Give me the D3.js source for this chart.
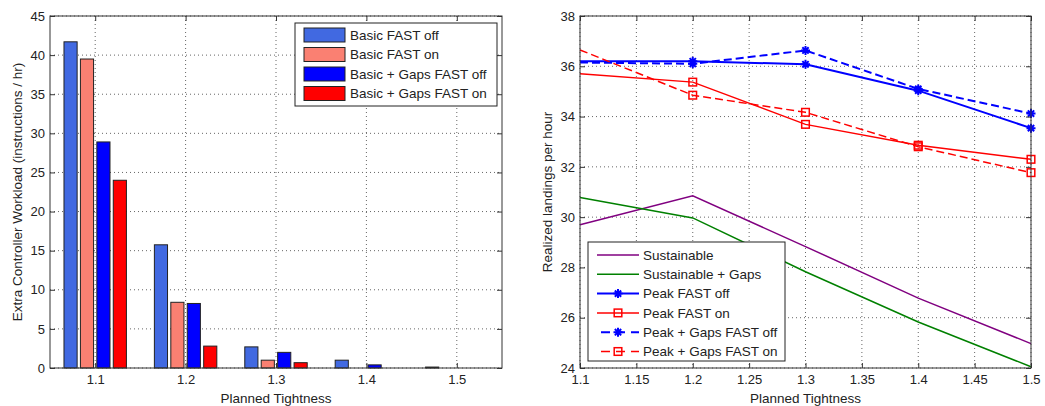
<!DOCTYPE html>
<html lang="en">
<head>
<meta charset="UTF-8">
<title>planned tightness</title>
<script src="https://cdn.jsdelivr.net/npm/d3@7"></script>
<style>
    body {
        margin: 0;
        background: #fff;
        font-family: "Liberation Sans", Arial, sans-serif;
    }
    text { fill: #222; }
</style>
</head>
<body>
<script>
    let width = 1045;
    let height = 406;

    // planned tightness, shared by both panels
    let tightness = [1.1, 1.2, 1.3, 1.4, 1.5];

    // left panel: extra controller workload
    let barSeries = ["Basic FAST off", "Basic FAST on", "Basic + Gaps FAST off", "Basic + Gaps FAST on"];
    let basicOff = [41.7, 15.75, 2.7, 1.0, 0.12];
    let basicOn = [39.5, 8.4, 1.0, 0, 0];
    let gapsOff = [28.9, 8.25, 2.0, 0.4, 0];
    let gapsOn = [24.0, 2.8, 0.68, 0, 0];
    let workloadTicks = [0, 5, 10, 15, 20, 25, 30, 35, 40, 45];

    // right panel: realized landings per hour
    let lineSeries = ["Sustainable", "Sustainable + Gaps", "Peak FAST off", "Peak FAST on", "Peak + Gaps FAST off", "Peak + Gaps FAST on"];
    let sustainable = [29.7, 30.85, 28.83, 26.78, 24.97];
    let sustainableGaps = [30.78, 29.97, 27.83, 25.83, 24.05];
    let peakOff = [36.2, 36.2, 36.08, 35.03, 33.54];
    let peakOn = [35.7, 35.37, 33.69, 32.86, 32.3];
    let peakGapsOff = [36.15, 36.1, 36.63, 35.1, 34.12];
    let peakGapsOn = [36.65, 34.85, 34.17, 32.8, 31.77];
    let tightTicks = [1.1, 1.15, 1.2, 1.25, 1.3, 1.35, 1.4, 1.45, 1.5];
    let landingTicks = [24, 26, 28, 30, 32, 34, 36, 38];

    // styles
    let barColours = ["#4169e1", "#fa8072", "#0000ff", "#ff0000"];
    let lineStyles = [
        { colour: "#800080", dash: null, marker: null, w: 1.5 },
        { colour: "#008000", dash: null, marker: null, w: 1.5 },
        { colour: "#0000ff", dash: null, marker: "star", w: 2 },
        { colour: "#ff0000", dash: null, marker: "square", w: 1.5 },
        { colour: "#0000ff", dash: "8,4", marker: "star", w: 2 },
        { colour: "#ff0000", dash: "8,4", marker: "square", w: 1.5 }
    ];

    let svg = d3.select("body").append("svg")
        .attr("width", width)
        .attr("height", height);

    // grid, inward ticks on all four sides and a box, matlab style
    function frame(g, x, y, xTicks, yTicks, xFmt) {
        let [xa, xb] = x.range();
        let [ya, yb] = y.range();
        let grid = g.append("g")
            .attr("stroke", "#666")
            .attr("stroke-dasharray", "1,3");
        grid.selectAll(".gx").data(xTicks).enter().append("line")
            .attr("x1", d => x(d)).attr("x2", d => x(d))
            .attr("y1", yb).attr("y2", ya);
        grid.selectAll(".gy").data(yTicks).enter().append("line")
            .attr("x1", xa).attr("x2", xb)
            .attr("y1", d => y(d)).attr("y2", d => y(d));
    }

    function axes(g, x, y, xTicks, yTicks, xFmt) {
        let [xa, xb] = x.range();
        let [ya, yb] = y.range();
        let bottom = g.append("g")
            .attr("transform", "translate(0," + ya + ")")
            .call(d3.axisBottom(x).tickValues(xTicks).tickFormat(xFmt)
                .tickSizeInner(-5).tickSizeOuter(0).tickPadding(7));
        let leftAx = g.append("g")
            .attr("transform", "translate(" + xa + ",0)")
            .call(d3.axisLeft(y).tickValues(yTicks).tickFormat(d3.format("d"))
                .tickSizeInner(-5).tickSizeOuter(0).tickPadding(5));
        let top = g.append("g")
            .attr("transform", "translate(0," + yb + ")")
            .call(d3.axisTop(x).tickValues(xTicks).tickFormat("")
                .tickSizeInner(-5).tickSizeOuter(0));
        let right = g.append("g")
            .attr("transform", "translate(" + xb + ",0)")
            .call(d3.axisRight(y).tickValues(yTicks).tickFormat("")
                .tickSizeInner(-5).tickSizeOuter(0));
        [bottom, leftAx, top, right].forEach(a => {
            a.select(".domain").remove();
            a.selectAll("line").attr("stroke", "#333");
            a.selectAll("text").style("font-size", "13px").attr("fill", "#222");
        });
        g.append("rect")
            .attr("x", xa).attr("y", yb)
            .attr("width", xb - xa).attr("height", ya - yb)
            .attr("fill", "none")
            .attr("stroke", "#333");
    }

    function labels(g, x, y, xText, yText) {
        let [xa, xb] = x.range();
        let [ya, yb] = y.range();
        g.append("text")
            .attr("x", (xa + xb) / 2).attr("y", ya + 35)
            .attr("text-anchor", "middle")
            .style("font-size", "13.5px")
            .text(xText);
        g.append("text")
            .attr("transform", "translate(" + (xa - 28) + "," + (ya + yb) / 2 + ") rotate(-90)")
            .attr("text-anchor", "middle")
            .style("font-size", "13.5px")
            .text(yText);
    }

    // ---------------- left: grouped bars ----------------
    let xBar = d3.scaleLinear().domain([1.05, 1.55]).range([50, 502]);
    let yBar = d3.scaleLinear().domain([0, 45]).range([368, 16]);
    let groupW = xBar(1.1 + 0.0727) - xBar(1.1);
    let xInner = d3.scaleBand()
        .domain(barSeries)
        .range([-groupW / 2, groupW / 2])
        .paddingInner(0.2)
        .paddingOuter(0.1);

    let barData = [basicOff, basicOn, gapsOff, gapsOn];
    let gl = svg.append("g");
    frame(gl, xBar, yBar, tightness, workloadTicks);

    barData.forEach((vals, s) => {
        gl.append("g").selectAll("rect")
            .data(vals)
            .enter().append("rect")
            .attr("x", (d, i) => xBar(tightness[i]) + xInner(barSeries[s]))
            .attr("y", d => yBar(d))
            .attr("width", xInner.bandwidth())
            .attr("height", d => yBar(0) - yBar(d))
            .attr("fill", barColours[s])
            .attr("stroke", "#222")
            .attr("stroke-width", 1);
    });

    axes(gl, xBar, yBar, tightness, workloadTicks, d3.format(".1f"));
    labels(gl, xBar, yBar, "Planned Tightness", "Extra Controller Workload (instructions / hr)");

    // left legend
    let legL = gl.append("g").attr("transform", "translate(295,23)");
    legL.append("rect")
        .attr("width", 202).attr("height", 83)
        .attr("fill", "#fff").attr("stroke", "#222");
    let rowsL = legL.selectAll(".row").data(barSeries).enter().append("g")
        .attr("transform", (d, i) => "translate(0," + (12 + i * 19.5) + ")");
    rowsL.append("rect")
        .attr("x", 9).attr("y", -7)
        .attr("width", 41).attr("height", 14)
        .attr("fill", (d, i) => barColours[i])
        .attr("stroke", "#222");
    rowsL.append("text")
        .attr("x", 55).attr("dy", "0.35em")
        .style("font-size", "13.5px")
        .text(d => d);

    // ---------------- right: lines ----------------
    let xLine = d3.scaleLinear().domain([1.1, 1.5]).range([580, 1031]);
    let yLine = d3.scaleLinear().domain([24, 38]).range([368, 16]);
    let lineData = [sustainable, sustainableGaps, peakOff, peakOn, peakGapsOff, peakGapsOn];

    let gr = svg.append("g");
    frame(gr, xLine, yLine, tightTicks, landingTicks);

    function asterisk(r) {
        let d = r * 0.7;
        return "M" + (-r) + ",0L" + r + ",0M0," + (-r) + "L0," + r +
            "M" + (-d) + "," + (-d) + "L" + d + "," + d +
            "M" + (-d) + "," + d + "L" + d + "," + (-d);
    }

    function drawMarker(sel, kind, colour) {
        if (kind === "star") {
            sel.append("path")
                .attr("d", asterisk(4.5))
                .attr("stroke", colour)
                .attr("stroke-width", 2)
                .attr("fill", "none");
        } else if (kind === "square") {
            sel.append("rect")
                .attr("x", -3.8).attr("y", -3.8)
                .attr("width", 7.6).attr("height", 7.6)
                .attr("fill", "none")
                .attr("stroke", colour)
                .attr("stroke-width", 1.5);
        }
    }

    let line = d3.line()
        .x((d, i) => xLine(tightness[i]))
        .y(d => yLine(d));

    lineData.forEach((vals, s) => {
        let st = lineStyles[s];
        gr.append("path")
            .datum(vals)
            .attr("d", line)
            .attr("fill", "none")
            .attr("stroke", st.colour)
            .attr("stroke-width", st.w)
            .attr("stroke-dasharray", st.dash);
        if (st.marker) {
            // the original shows no marker on the 1.1 edge
            gr.append("g").selectAll("g")
                .data(vals.slice(1))
                .enter().append("g")
                .attr("transform", (d, i) => "translate(" + xLine(tightness[i + 1]) + "," + yLine(d) + ")")
                .each(function () { drawMarker(d3.select(this), st.marker, st.colour); });
        }
    });

    axes(gr, xLine, yLine, tightTicks, landingTicks, d => d3.format(".2~f")(d));
    labels(gr, xLine, yLine, "Planned Tightness", "Realized landings per hour");

    // right legend
    let legR = gr.append("g").attr("transform", "translate(588,242)");
    legR.append("rect")
        .attr("width", 197).attr("height", 119)
        .attr("fill", "#fff").attr("stroke", "#222");
    let rowsR = legR.selectAll(".row").data(lineSeries).enter().append("g")
        .attr("transform", (d, i) => "translate(0," + (13 + i * 19.3) + ")");
    rowsR.each(function (d, i) {
        let st = lineStyles[i];
        let row = d3.select(this);
        row.append("line")
            .attr("x1", st.dash ? 13 : 9).attr("x2", 51)
            .attr("stroke", st.colour)
            .attr("stroke-width", st.w)
            .attr("stroke-dasharray", st.dash ? "9,6" : null);
        if (st.marker) {
            drawMarker(row.append("g").attr("transform", "translate(30,0)"), st.marker, st.colour);
        }
    });
    rowsR.append("text")
        .attr("x", 55).attr("dy", "0.35em")
        .style("font-size", "13.5px")
        .text(d => d);
</script>
</body>
</html>
